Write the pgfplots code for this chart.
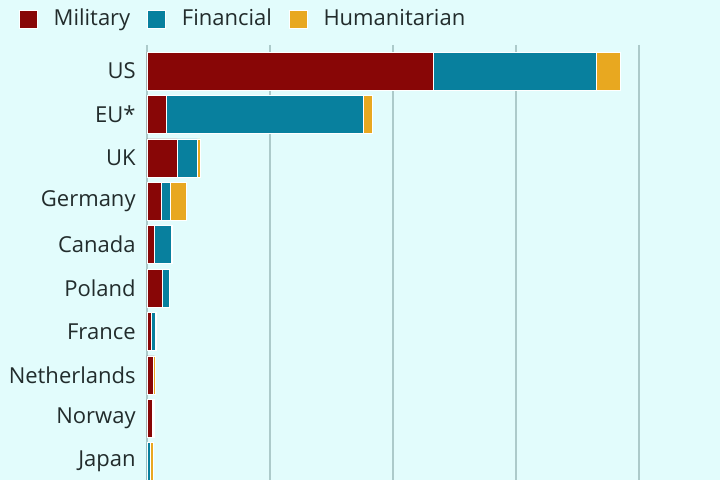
\documentclass[border=0pt]{standalone}
\usepackage{pgfplots}
\pgfplotsset{compat=1.18}
\usepackage{fontspec}
\setmainfont{Open Sans}
\definecolor{bg}{RGB}{226,252,252}
\definecolor{mil}{RGB}{136,6,6}
\definecolor{fin}{RGB}{8,128,158}
\definecolor{hum}{RGB}{232,168,32}
\definecolor{gridc}{RGB}{172,202,202}
\definecolor{txt}{RGB}{34,44,44}
\begin{document}
\begin{tikzpicture}
\clip (0,0) rectangle (360pt,-240pt);
\fill[bg] (0,0) rectangle (360pt,-240pt);
\begin{axis}[
 at={(73.5pt,-22.5pt)}, anchor=north west,
 scale only axis, width=246pt, height=221.4pt,
 xbar stacked, bar width=0.875,
 xmin=0, xmax=80, ymin=-0.6, ymax=9.6, y dir=reverse,
 xtick={0,20,40,60,80}, xticklabels={}, xmajorgrids,
 grid style={gridc, line width=0.6pt},
 ytick={0,...,9},
 yticklabels={US,EU*,UK,Germany,Canada,Poland,France,Netherlands,Norway,Japan},
 major tick length=0, axis line style={draw=none},
 yticklabel style={font=\fontsize{11}{13}\selectfont, text=txt, inner sep=0pt, xshift=-5.5pt},
 legend columns=-1,
 legend style={at={(-0.273,1.059)}, anchor=west, draw=none, fill=none,
   font=\fontsize{11}{13}\selectfont, text=txt,
   /tikz/every even column/.append style={column sep=6.5pt},
   /tikz/every odd column/.append style={column sep=6pt}},
 legend image code/.code={\fill[#1] (0pt,-4.5pt) rectangle (9pt,4.5pt);},
]
\addplot[fill=mil, draw=white, line width=0.3pt] coordinates {
(46.5,0) (3.1,1) (4.9,2) (2.4,3) (1.2,4) (2.45,5) (0.65,6) (1.0,7) (0.9,8) (0.0,9)};
\addplot[fill=fin, draw=white, line width=0.3pt] coordinates {
(26.5,0) (32.0,1) (3.3,2) (1.35,3) (2.8,4) (1.2,5) (0.65,6) (0.1,7) (0.1,8) (0.5,9)};
\addplot[fill=hum, draw=white, line width=0.3pt] coordinates {
(3.9,0) (1.6,1) (0.45,2) (2.6,3) (0.05,4) (0.05,5) (0.15,6) (0.2,7) (0.2,8) (0.45,9)};
\legend{Military,Financial,Humanitarian}
\end{axis}
\end{tikzpicture}
\end{document}
